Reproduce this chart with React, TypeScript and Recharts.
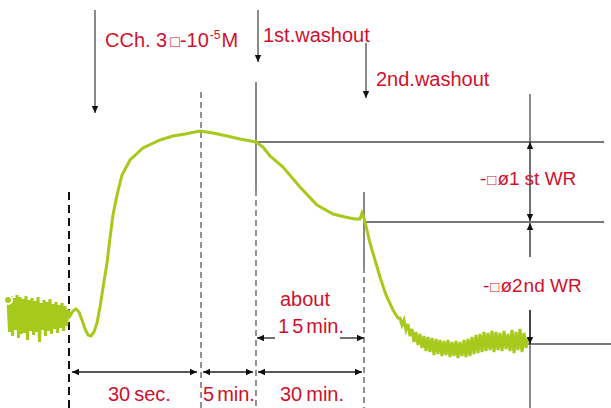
import React from 'react';
import { LineChart, Line, XAxis, YAxis, ReferenceLine, ReferenceDot } from 'recharts';

const RED = '#d0102c';
const GREY = '#4a4a4a';
const TRACE = '#a6c91b';
const FONT = '"Liberation Sans", Arial, sans-serif';

// time axis (arbitrary units) and tension (arbitrary units)
const BASE_T0 = 8;
const BASE_DT = 1.5;
const baselineNoise = [108, 76, 112, 72, 110, 78, 113, 70, 111, 74, 109, 75, 112, 68, 108, 77, 110, 73, 107, 76, 111, 66, 105, 78, 108, 72, 106, 77, 109, 74, 104, 79, 106, 75, 103, 80, 105, 77, 102, 82, 98];

const responseTime = [70, 73, 76, 79, 82, 85, 88, 91, 94, 97, 100, 103, 107, 110, 113, 117, 122, 130, 143, 160, 173, 185, 200, 213, 227, 240, 256, 263, 270, 283, 300, 317, 333, 345, 355, 360, 362, 364, 366, 370, 375, 380, 386, 393, 398];
const responseTension = [92, 97, 99, 96, 88, 79, 73, 72, 76, 85, 101, 120, 145, 170, 193, 213, 233, 248, 260, 268, 272, 274, 277, 275, 272, 269, 266, 261, 252, 241, 221, 203, 194, 191, 189, 189, 195, 190, 182, 165, 148, 131, 113, 98, 90];

const PLAT_T0 = 400;
const PLAT_DT = 2;
const plateauNoise = [90, 83, 88, 78, 84, 72, 79, 66, 76, 63, 74, 60, 72, 57, 71, 56, 70, 53, 69, 54, 68, 52, 67, 53, 68, 51, 66, 52, 67, 50, 66, 52, 68, 51, 69, 52, 71, 54, 73, 55, 74, 56, 76, 57, 75, 58, 77, 56, 76, 58, 75, 57, 77, 59, 74, 57, 78, 55, 76, 58, 79, 56, 75, 60, 70];

const data = [
  ...baselineNoise.map((v, i) => ({ t: BASE_T0 + i * BASE_DT, tension: v })),
  ...responseTime.map((t, i) => ({ t, tension: responseTension[i] })),
  ...plateauNoise.map((v, i) => ({ t: PLAT_T0 + i * PLAT_DT, tension: v })),
];

// annotation geometry in data units: [x1, y1, x2, y2]
const pointerArrows = [
  [95, 398, 95, 295],
  [258, 398, 258, 346],
  [366, 365, 366, 310],
];
const solidLines = [
  [256, 326, 256, 218],
  [364, 216, 364, 141],
  [530, 314, 530, 266],
  [530, 98, 530, 0],
  [256, 266, 604, 266],
  [364, 186, 604, 186],
  [527, 64, 611, 64],
];
const greyDashed = [
  [201, 316, 201, 0],
  [256, 218, 256, 0],
  [364, 141, 364, 0],
];
const blackDashed = [[69, 216, 69, 0]];
const doubleArrows = [
  [530, 266, 530, 187],
  [72, 36, 197, 36],
  [203, 36, 253, 36],
  [258, 36, 362, 36],
];
const singleArrows = [
  [530, 151, 530, 185],
  [275, 70, 257, 70],
  [340, 70, 364, 70],
  [530, 98, 530, 64],
];

type Heads = 'none' | 'start' | 'end' | 'both';

function makeShape(heads: Heads, color: string, width: number, dash?: string) {
  return (p: any) => {
    const { x1, y1, x2, y2 } = p;
    const dx = x2 - x1;
    const dy = y2 - y1;
    const len = Math.hypot(dx, dy) || 1;
    const ux = dx / len;
    const uy = dy / len;
    const head = (tx: number, ty: number, ex: number, ey: number, key: string) => {
      const L = 7;
      const W = 3.2;
      const bx = tx - ex * L;
      const by = ty - ey * L;
      const pts = `${tx},${ty} ${bx - ey * W},${by + ex * W} ${bx + ey * W},${by - ex * W}`;
      return <polygon key={key} points={pts} fill="#111" />;
    };
    return (
      <g>
        <line x1={x1} y1={y1} x2={x2} y2={y2} stroke={color} strokeWidth={width} strokeDasharray={dash} />
        {(heads === 'end' || heads === 'both') && head(x2, y2, ux, uy, 'e')}
        {(heads === 'start' || heads === 'both') && head(x1, y1, -ux, -uy, 's')}
      </g>
    );
  };
}

const seg = (s: number[]) => [
  { x: s[0], y: s[1] },
  { x: s[2], y: s[3] },
];

type Lbl = { x: number; y: number; size: number; parts: { text: string; dx?: number; dy?: number; size?: number }[] };

const labels: Lbl[] = [
  {
    x: 105, y: 361, size: 20,
    parts: [
      { text: 'CCh. 3' },
      { text: '□', dx: 3, size: 16 },
      { text: '-10', dx: 0 },
      { text: '-5', dx: 1, dy: -8, size: 12 },
      { text: 'M', dx: 1, dy: 8 },
    ],
  },
  { x: 263, y: 366, size: 20, parts: [{ text: '1st.washout' }] },
  { x: 376, y: 322, size: 20, parts: [{ text: '2nd.washout' }] },
  {
    x: 480, y: 223, size: 19,
    parts: [{ text: '-' }, { text: '□', dx: 1, size: 15 }, { text: 'ø1', dx: 1 }, { text: 'st WR', dx: 5 }],
  },
  {
    x: 483, y: 116, size: 19,
    parts: [{ text: '-' }, { text: '□', dx: 1, size: 15 }, { text: 'ø2', dx: 1 }, { text: 'nd WR', dx: 1 }],
  },
  { x: 280, y: 102, size: 20, parts: [{ text: 'about' }] },
  { x: 278, y: 75, size: 20, parts: [{ text: '1' }, { text: '5', dx: 3 }, { text: 'min.', dx: 3 }] },
  { x: 108, y: 7, size: 20, parts: [{ text: '30' }, { text: 'sec.', dx: 4 }] },
  { x: 203, y: 7, size: 20, parts: [{ text: '5' }, { text: 'min.', dx: 3 }] },
  { x: 280, y: 7, size: 20, parts: [{ text: '30' }, { text: 'min.', dx: 4 }] },
];

const labelShape = (l: Lbl) => (p: any) => (
  <text x={p.cx} y={p.cy} fill={RED} fontFamily={FONT} fontSize={l.size}>
    {l.parts.map((pt, i) => (
      <tspan key={i} dx={pt.dx ?? 0} dy={pt.dy ?? 0} fontSize={pt.size ?? l.size}>
        {pt.text}
      </tspan>
    ))}
  </text>
);

export default function App() {
  return (
    <div style={{ position: 'absolute', left: 0, top: 0, background: '#fff' }}>
      <LineChart width={611} height={408} data={data} margin={{ top: 0, right: 0, bottom: 0, left: 0 }}>
        <XAxis dataKey="t" type="number" domain={[0, 611]} hide />
        <YAxis type="number" domain={[0, 408]} hide />
        {blackDashed.map((s, i) => (
          <ReferenceLine key={'bd' + i} segment={seg(s)} ifOverflow="visible" shape={makeShape('none', '#111', 2, '8 5')} />
        ))}
        {greyDashed.map((s, i) => (
          <ReferenceLine key={'gd' + i} segment={seg(s)} ifOverflow="visible" shape={makeShape('none', GREY, 1.2, '6 4')} />
        ))}
        {solidLines.map((s, i) => (
          <ReferenceLine key={'sl' + i} segment={seg(s)} ifOverflow="visible" shape={makeShape('none', GREY, 1.3)} />
        ))}
        <Line dataKey="tension" stroke={TRACE} strokeWidth={3} dot={false} isAnimationActive={false} type="linear" />
        {pointerArrows.map((s, i) => (
          <ReferenceLine key={'pa' + i} segment={seg(s)} ifOverflow="visible" shape={makeShape('end', GREY, 1.3)} />
        ))}
        {doubleArrows.map((s, i) => (
          <ReferenceLine key={'da' + i} segment={seg(s)} ifOverflow="visible" shape={makeShape('both', '#222', 1.3)} />
        ))}
        {singleArrows.map((s, i) => (
          <ReferenceLine key={'sa' + i} segment={seg(s)} ifOverflow="visible" shape={makeShape('end', '#222', 1.3)} />
        ))}
        {labels.map((l, i) => (
          <ReferenceDot key={'lb' + i} x={l.x} y={l.y} r={0} ifOverflow="visible" shape={labelShape(l)} />
        ))}
      </LineChart>
    </div>
  );
}
